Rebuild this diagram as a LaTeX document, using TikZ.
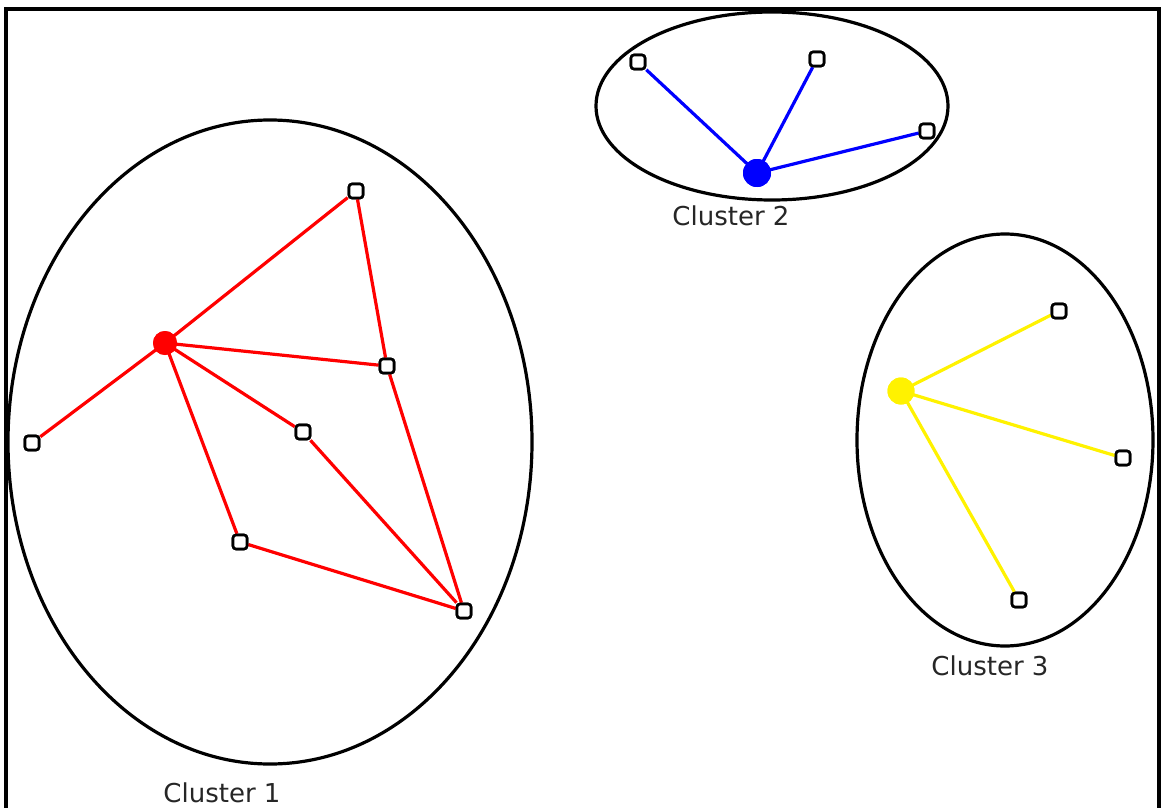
\documentclass[tikz,border=0pt]{standalone}
\usepackage{fontspec}
\setmainfont{DejaVu Sans}
\usetikzlibrary{positioning, calc}
\tikzset{
    member/.style={rectangle, rounded corners=3pt, draw=black, fill=white, line width=2.6pt, minimum size=14pt, inner sep=0pt},
    head/.style={circle, minimum size=24pt, inner sep=0pt},
    link/.style={line width=3.2pt},
    hull/.style={draw=black, line width=3.2pt},
    tag/.style={font=\fontsize{26}{30}\selectfont, text=black!85},
}

\begin{document}
\begin{tikzpicture}[x=1pt, y=-1pt]
    \useasboundingbox (0,0) rectangle (1163,808);
    % Rahmen (unten offen)
    \draw[line width=3.2pt] (6,808) -- (6,9) -- (1159,9) -- (1159,808);

    % Cluster 1
    \draw[hull] (270,442) ellipse [x radius=262, y radius=322];
    \node[head, fill=red] (c1) at (165,343) {};
    \node[member] (a1) at (356,191) {};
    \node[member] (a2) at (387,366) {};
    \node[member] (a3) at (303,432) {};
    \node[member] (a4) at (32,443) {};
    \node[member] (a5) at (240,542) {};
    \node[member] (a6) at (464,611) {};
    \foreach \n in {a1,a2,a3,a4,a5}
        \draw[link, red] (c1.center) -- (\n);
    \draw[link, red] (a1) -- (a2);
    \draw[link, red] (a2) -- (a6);
    \draw[link, red] (a3) -- (a6);
    \draw[link, red] (a5) -- (a6);
    \node[tag] (t1) at (222,793) {Cluster 1};

    % Cluster 2
    \draw[hull] (772,106) ellipse [x radius=176, y radius=94];
    \node[head, fill=blue, minimum size=28pt] (c2) at (757,173) {};
    \node[member] (b1) at (638,62) {};
    \node[member] (b2) at (817,59) {};
    \node[member] (b3) at (927,131) {};
    \foreach \n in {b1,b2,b3}
        \draw[link, blue] (c2.center) -- (\n);
    \node[tag] (t2) at (731,216) {Cluster 2};

    % Cluster 3
    \draw[hull] (1005,440) ellipse [x radius=148, y radius=206];
    \node[head, fill=yellow, minimum size=27pt] (c3) at (901,391) {};
    \node[member] (d1) at (1059,311) {};
    \node[member] (d2) at (1123,458) {};
    \node[member] (d3) at (1019,600) {};
    \foreach \n in {d1,d2,d3}
        \draw[link, yellow] (c3.center) -- (\n);
    \node[tag] (t3) at (990,666) {Cluster 3};

    % Knoten nochmal oben drauf
    \foreach \n in {a1,a2,a3,a4,a5,a6,b1,b2,b3,d1,d2,d3}
        \node[member] at (\n) {};
    \node[head, fill=red] at (c1) {};
    \node[head, fill=blue, minimum size=28pt] at (c2) {};
    \node[head, fill=yellow, minimum size=27pt] at (c3) {};
\end{tikzpicture}
\end{document}
